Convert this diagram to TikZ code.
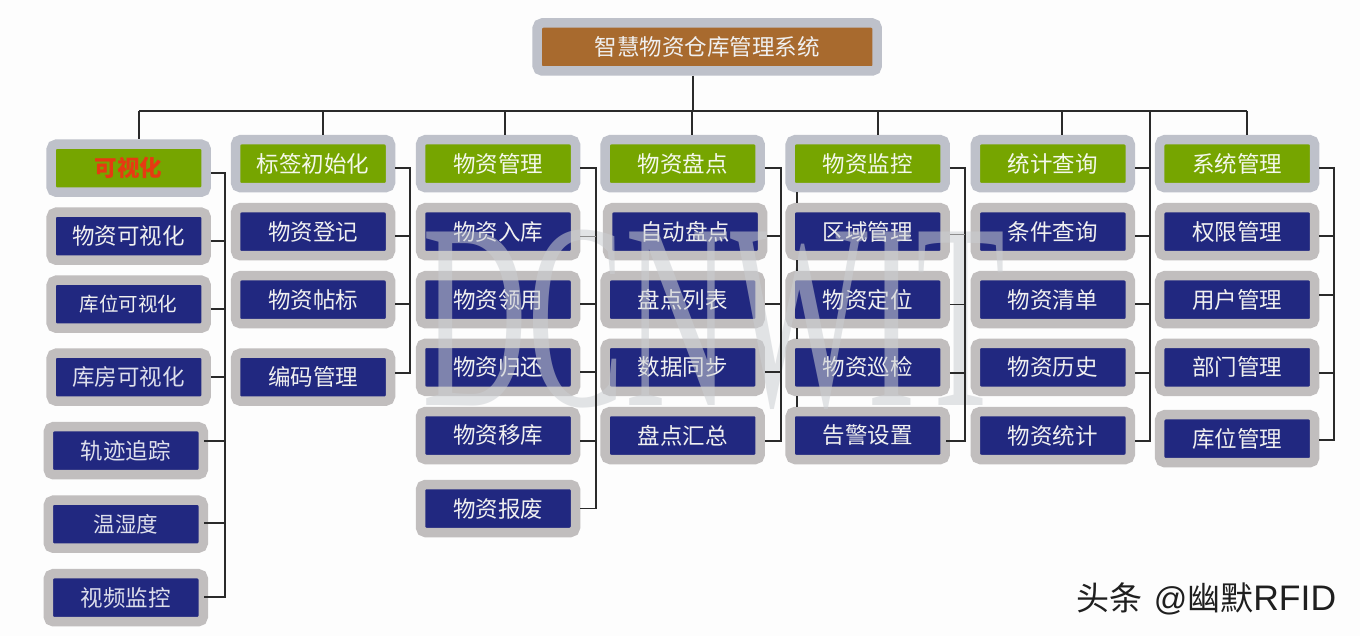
\documentclass[tikz,border=0pt]{standalone}
\usepackage{fontspec}
\setmainfont{Noto Sans CJK SC}
\newfontfamily\wmfont{Liberation Serif}
\newfontfamily\creditlatin{Liberation Sans}
\definecolor{pagebg}{HTML}{FDFDFD}
\definecolor{navy}{HTML}{212880}
\definecolor{leaf}{HTML}{76A500}
\definecolor{rootfill}{HTML}{A86A2E}
\definecolor{frameA}{HTML}{C1BEBE}
\definecolor{frameB}{HTML}{BEC1CA}
\definecolor{wmcol}{HTML}{CBCED2}
\definecolor{wire}{HTML}{2A2A2A}
\definecolor{alert}{HTML}{E63A12}
\tikzset{
  base/.style={rectangle,rounded corners=5pt,line width=9.5pt,minimum width=155pt,minimum height=48pt,inner sep=0pt,
    font=\fontsize{22.5}{26}\selectfont,text=white!94!black},
  leafbox/.style={base,draw=frameA,fill=navy},
  headbox/.style={base,draw=frameB,fill=leaf,text=white!92!leaf},
  rootbox/.style={base,draw=frameB,fill=rootfill,minimum width=340pt},
  wiring/.style={draw=wire,line width=1.6pt},
  faint/.style={draw=black!45,line width=1pt}
}
\newcommand{\mybox}[5][]{\node[#2,#1] (#3) at (#4) {#5};}
\begin{document}
\begin{tikzpicture}[x=1pt,y=-1pt]
\fill[pagebg] (0,0) rectangle (1360,636);
\useasboundingbox (0,0) rectangle (1360,636);
% root
\mybox{rootbox}{root}{707.2,47}{智慧物资仓库管理系统}
% column 1
\mybox[text=alert,font=\fontsize{22.5}{26}\selectfont\bfseries]{headbox}{a0}{128.7,168.2}{可视化}
\mybox{leafbox}{a1}{128.7,236.2}{物资可视化}
\mybox[font=\fontsize{19.5}{24}\selectfont]{leafbox}{a2}{128.7,304.2}{库位可视化}
\mybox[text=white!85!navy]{leafbox}{a3}{128.7,377.2}{库房可视化}
\mybox[text=white!85!navy]{leafbox}{a4}{125.8,450.7}{轨迹追踪}
\mybox[text=white!85!navy,font=\fontsize{21.5}{26}\selectfont]{leafbox}{a5}{125.8,524.2}{温湿度}
\mybox[text=white!85!navy]{leafbox}{a6}{125.8,597.7}{视频监控}
% column 2
\mybox{headbox}{b0}{313,163.7}{标签初始化}
\mybox{leafbox}{b1}{313,231.7}{物资登记}
\mybox{leafbox}{b2}{313,299.7}{物资帖标}
\mybox{leafbox}{b3}{313,377.2}{编码管理}
% column 3
\mybox{headbox}{c0}{498,163.7}{物资管理}
\mybox{leafbox}{c1}{498,231.7}{物资入库}
\mybox{leafbox}{c2}{498,299.7}{物资领用}
\mybox{leafbox}{c3}{498,367.3}{物资归还}
\mybox{leafbox}{c4}{498,435.5}{物资移库}
\mybox{leafbox}{c5}{498,508.5}{物资报废}
% column 4
\mybox{headbox}{d0}{682.7,163.7}{物资盘点}
\mybox{leafbox}{d1}{685,231.7}{自动盘点}
\mybox{leafbox}{d2}{682.7,299.7}{盘点列表}
\mybox{leafbox}{d3}{682.7,367.3}{数据同步}
\mybox{leafbox}{d4}{682.7,435.5}{盘点汇总}
% column 5
\mybox{headbox}{e0}{867.7,163.7}{物资监控}
\mybox{leafbox}{e1}{867.7,231.7}{区域管理}
\mybox{leafbox}{e2}{867.7,299.7}{物资定位}
\mybox{leafbox}{e3}{867.7,367.3}{物资巡检}
\mybox{leafbox}{e4}{867.7,435.5}{告警设置}
% column 6
\mybox{headbox}{f0}{1052.8,163.7}{统计查询}
\mybox{leafbox}{f1}{1052.8,231.7}{条件查询}
\mybox{leafbox}{f2}{1052.8,299.7}{物资清单}
\mybox{leafbox}{f3}{1052.8,367.3}{物资历史}
\mybox{leafbox}{f4}{1052.8,435.5}{物资统计}
% column 7
\mybox{headbox}{g0}{1237.2,163.7}{系统管理}
\mybox{leafbox}{g1}{1237.2,231.7}{权限管理}
\mybox{leafbox}{g2}{1237.2,299.7}{用户管理}
\mybox{leafbox}{g3}{1237.2,367.3}{部门管理}
\mybox{leafbox}{g4}{1237.2,438.7}{库位管理}
% watermark
\node[xscale=.55,transform shape,text=wmcol,text opacity=.55,inner sep=0pt,font=\fontsize{265}{265}\wmfont] (wm) at (714,320) {DCNWIT};
% tree wiring
\coordinate (tl) at (139,111);
\coordinate (tr) at (1247,111);
\coordinate (t2) at (323,111);
\coordinate (t3) at (505,111);
\coordinate (t4) at (692,111);
\coordinate (t5) at (878,111);
\coordinate (t6) at (1062,111);
\coordinate (ts) at (693,111);
\coordinate (sixbus) at (1150,111);
\draw[wiring] (tl) -- (tr);
\draw[wiring] (ts |- root.south) -- (ts);
\draw[wiring] (tl) -- (tl |- a0.north);
\foreach \t/\h in {t2/b0,t3/c0,t4/d0,t5/e0,t6/f0,tr/g0}
  \draw[wiring] (\t) -- (\t |- \h.north);
% column buses
\coordinate (abus) at (225,0);
\coordinate (bbus) at (410,0);
\coordinate (cbus) at (596,0);
\coordinate (dbus) at (781,0);
\coordinate (ebus) at (965,0);
\coordinate (gbus) at (1334,0);
\coordinate (sidebar) at (797,0);
% column 1
\coordinate (a0s) at ([yshift=-4.8pt]a0.east);
\coordinate (a1s) at ([yshift=-4.8pt]a1.east);
\coordinate (a2s) at ([yshift=-4.8pt]a2.east);
\coordinate (a3s) at (a3.east);
\coordinate (a4s) at ([xshift=-4pt,yshift=9.7pt]a4.east);
\coordinate (a5s) at ([xshift=-4pt,yshift=1.2pt]a5.east);
\coordinate (a6s) at ([xshift=-4pt,yshift=.7pt]a6.east);
\draw[wiring] (a0s) -| (abus |- a6s) -- (a6s);
\foreach \n in {a1s,a2s,a3s,a4s,a5s} \draw[wiring] (\n) -- (abus |- \n);
% column 2
\coordinate (b0s) at ([yshift=-4.5pt]b0.east);
\coordinate (b1s) at ([yshift=-4.5pt]b1.east);
\coordinate (b2s) at ([yshift=-4.5pt]b2.east);
\coordinate (b3s) at ([yshift=4pt]b3.east);
\draw[wiring] (b0s) -| (bbus |- b3s) -- (b3s);
\foreach \n in {b1s,b2s} \draw[wiring] (\n) -- (bbus |- \n);
% column 3
\coordinate (c0s) at ([yshift=-4.5pt]c0.east);
\coordinate (c1s) at ([yshift=-4.5pt]c1.east);
\coordinate (c2s) at ([yshift=-4.5pt]c2.east);
\coordinate (c3s) at ([yshift=-4.7pt]c3.east);
\coordinate (c4s) at ([yshift=-5.5pt]c4.east);
\coordinate (c5s) at (c5.east);
\draw[wiring] (c0s) -| (cbus |- c5s) -- (c5s);
\draw[faint] (c1s) -- (cbus |- c1s);
\foreach \n in {c2s,c3s,c4s} \draw[wiring] (\n) -- (cbus |- \n);
% column 4
\coordinate (d0s) at ([yshift=-4.5pt]d0.east);
\coordinate (d1s) at ([yshift=-4.5pt]d1.east);
\coordinate (d2s) at ([yshift=-4.5pt]d2.east);
\coordinate (d3s) at ([yshift=-4.7pt]d3.east);
\coordinate (d4s) at ([yshift=-5.5pt]d4.east);
\draw[wiring] (d0s) -| (dbus |- d4s) -- (d4s);
\foreach \n in {d1s,d2s,d3s} \draw[wiring] (\n) -- (dbus |- \n);
% column 5
\coordinate (e0s) at ([yshift=-4.5pt]e0.east);
\coordinate (e1s) at ([yshift=-2.5pt]e1.east);
\coordinate (e2s) at ([yshift=-5pt]e2.east);
\coordinate (e3s) at ([yshift=-5.7pt]e3.east);
\coordinate (e4s) at ([xshift=-4pt,yshift=-5.5pt]e4.east);
\draw[wiring] (e0s) -| (ebus |- e4s) -- (e4s);
\draw[faint] (e1s) -- (ebus |- e1s);
\foreach \n in {e2s,e3s} \draw[wiring] (\n) -- (ebus |- \n);
\draw[wiring] (sidebar |- e0.south) -- (sidebar |- e1.north);
\draw[wiring] (sidebar |- e1.south) -- (sidebar |- e2.north);
\draw[wiring] (sidebar |- e2.south) -- (sidebar |- e3.north);
\draw[wiring] (sidebar |- e3.south) -- (sidebar |- e4.north);
% column 6
\coordinate (f0s) at ([yshift=-4.5pt]f0.east);
\coordinate (f1s) at ([yshift=-4.5pt]f1.east);
\coordinate (f2s) at ([yshift=-4.5pt]f2.east);
\coordinate (f3s) at ([yshift=-5.5pt]f3.east);
\coordinate (f4s) at ([yshift=-5.5pt]f4.east);
\draw[wiring] (sixbus) -- (sixbus |- f4s) -- (f4s);
\foreach \n in {f0s,f1s,f2s,f3s} \draw[wiring] (\n) -- (sixbus |- \n);
% column 7
\coordinate (g0s) at ([yshift=-4.5pt]g0.east);
\coordinate (g1s) at ([yshift=-4.5pt]g1.east);
\coordinate (g2s) at ([yshift=4.7pt]g2.east);
\coordinate (g3s) at ([yshift=-5.7pt]g3.east);
\coordinate (g4s) at ([yshift=-1.5pt]g4.east);
\draw[wiring] (g0s) -| (gbus |- g4s) -- (g4s);
\foreach \n in {g1s,g2s,g3s} \draw[wiring] (\n) -- (gbus |- \n);
% credit
\node[font=\fontsize{33}{38}\selectfont,text=black!88,inner sep=0pt,anchor=center] (credit) at (1206.5,599) {头条\hspace{11pt}{\creditlatin @}幽默{\creditlatin\fontsize{35.5}{38}\selectfont RFID}};
\end{tikzpicture}
\end{document}
